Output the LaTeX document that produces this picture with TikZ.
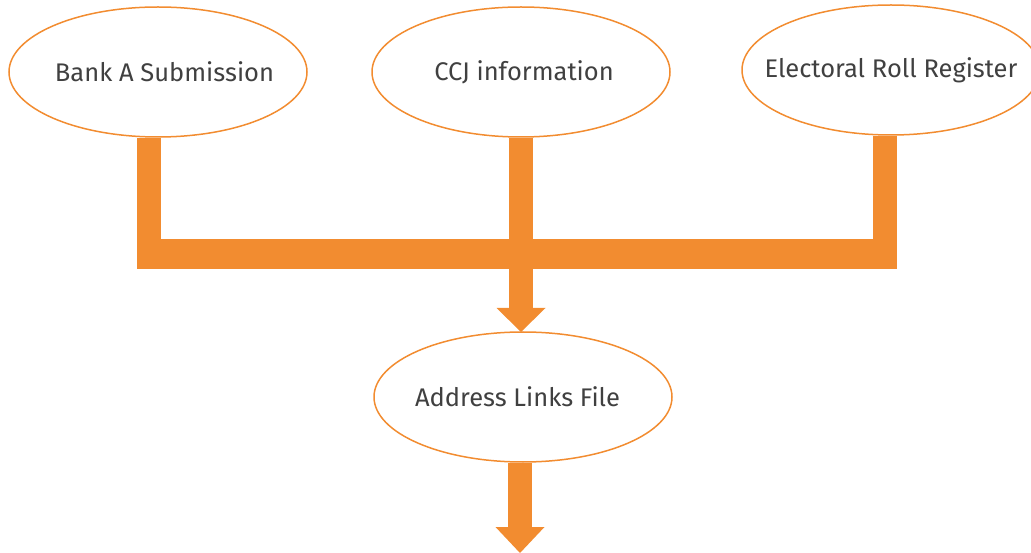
\documentclass[tikz,border=0pt]{standalone}
\usepackage{fontspec}
\setmainfont{Fira Sans}
\usetikzlibrary{shapes.geometric,calc,backgrounds}
\definecolor{org}{HTML}{F28C30}
\definecolor{txt}{HTML}{404040}
\newcommand{\ovtext}[2]{\makebox[0pt]{\hspace*{#1}#2}}
\tikzset{
  oval/.style={ellipse, draw=org, line width=1.5pt, fill=white, minimum width=298pt, minimum height=130pt, inner sep=0pt, text=txt, font=\fontsize{25.5}{30}\selectfont},
  vbar/.style={draw=org, line width=24pt},
  hbar/.style={draw=org, line width=30pt},
  head/.style={fill=org, draw=none}
}
\begin{document}
\begin{tikzpicture}[x=1pt,y=-1pt]
\useasboundingbox (0,0) rectangle (1031,553);
\clip (0,0) rectangle (1031,553);
% nodes
\node[oval] (bank) at (158,72) {\ovtext{13pt}{Bank A Submission}};
\node[oval] (ccj) at (521,72) {\ovtext{6pt}{CCJ information}};
\node[oval] (elec) at (891,70) {\ovtext{0pt}{Electoral Roll Register}};
\node[oval] (addr) at (523,397) {\ovtext{-11pt}{Address Links File}};
% junction coordinates
\coordinate (jb) at (149,269);
\coordinate (jc) at (521,308);
\coordinate (je) at (885,269);
\coordinate (hl) at (137,254);
\coordinate (hr) at (897,254);
\coordinate (tip1) at (521,332);
\coordinate (s2) at (520,527);
\coordinate (tip2) at (520,553);
\begin{scope}[on background layer]
\draw[vbar] (jb |- bank.south) -- (jb);
\draw[vbar] (jc |- ccj.south) -- (jc);
\draw[vbar] (je |- elec.south) -- (je);
\draw[hbar] (hl) -- (hr);
\fill[head] ($(jc)+(-24.5,0)$) -- ($(jc)+(24.5,0)$) -- (tip1) -- cycle;
\draw[vbar] (s2 |- addr.south) -- (s2);
\fill[head] ($(s2)+(-24.5,0)$) -- ($(s2)+(24.5,0)$) -- (tip2) -- cycle;
\end{scope}
\end{tikzpicture}
\end{document}
